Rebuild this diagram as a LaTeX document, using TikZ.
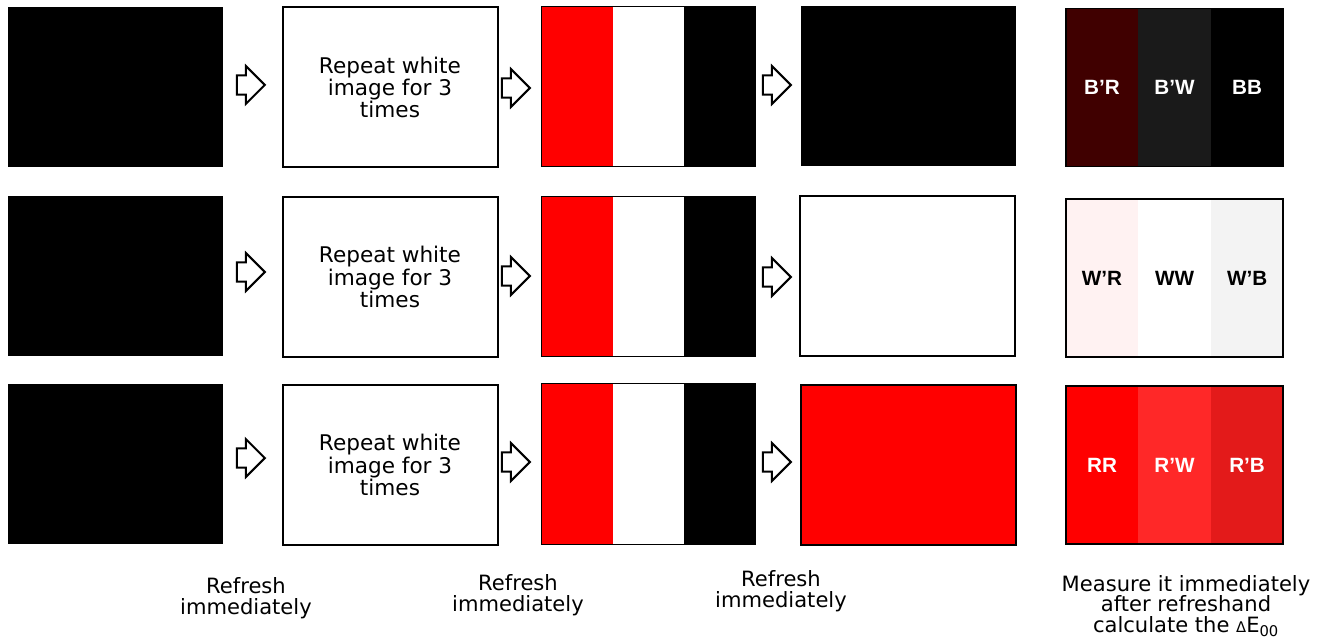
\documentclass[tikz,border=0pt]{standalone}
\usepackage{fontspec}
\setmainfont{DejaVu Sans}
\newfontfamily\stripefont{Liberation Sans}
\usepackage{tikz}
\usetikzlibrary{positioning}
\usetikzlibrary{shapes.arrows}
\definecolor{brdark}{HTML}{400000}
\definecolor{bwgrey}{HTML}{1A1A1A}
\definecolor{wrpink}{HTML}{FFF2F2}
\definecolor{wbgrey}{HTML}{F3F3F3}
\definecolor{rwred}{HTML}{FF2828}
\definecolor{rbred}{HTML}{E31A1A}
\tikzstyle{screen}=[rectangle,minimum width=161.25pt,minimum height=120pt,inner sep=0pt]
\tikzstyle{framed}=[screen,draw=black,line width=1.5pt]
\tikzstyle{stripe}=[rectangle,minimum width=54pt,minimum height=118pt,inner sep=0pt,line width=0.4pt,font=\stripefont\bfseries\fontsize{15.5}{18}\selectfont]
\tikzstyle{band}=[stripe,minimum width=53.25pt,minimum height=120pt]
\tikzstyle{tone}=[fill=#1,draw=#1]
\tikzstyle{caption}=[align=center,font=\fontsize{15.8}{15.5}\selectfont]

\begin{document}
\begin{tikzpicture}
		[x=0.75pt,y=-0.75pt, next/.style={single arrow,draw=black,line width=1.5pt,fill=white,minimum height=21pt,single arrow head extend=7pt,inner sep=0pt,inner ysep=6.5pt}]
		\useasboundingbox (0,0) rectangle (1330,641);
		
		% first row
		\node[screen,fill=black] (b1) at (115.5,87) {};
		\node[framed,caption,font=\fontsize{16.2}{15.6}\selectfont] (w1) at (390,87.5) {Repeat white\\image for 3\\times};
		\node[band,tone=red] (p1) at (577,86.5) {};
		\node[band,tone=white,right=0pt of p1] (q1) {};
		\node[band,tone=black,right=0pt of q1] (k1) {};
		\draw[line width=0.8pt] (p1.north west) rectangle (k1.south east);
		\node[screen,fill=black] (o1) at (908,86.5) {};
		\node[stripe,tone=brdark,text=white] (m11) at (1102,87.5) {B’R};
		\node[stripe,tone=bwgrey,text=white,right=0pt of m11] (m12) {B’W};
		\node[stripe,tone=black,text=white,right=0pt of m12] (m13) {BB};
		\draw[line width=1.2pt] (m11.north west) rectangle (m13.south east);
		
		% second row
		\node[screen,fill=black] (b2) at (115.5,276) {};
		\node[framed,caption,font=\fontsize{16.2}{15.6}\selectfont] (w2) at (390,277) {Repeat white\\image for 3\\times};
		\node[band,tone=red] (p2) at (577,276.5) {};
		\node[band,tone=white,right=0pt of p2] (q2) {};
		\node[band,tone=black,right=0pt of q2] (k2) {};
		\draw[line width=0.8pt] (p2.north west) rectangle (k2.south east);
		\node[framed,fill=white] (o2) at (907.5,276) {};
		\node[stripe,tone=wrpink] (m21) at (1102,278) {W’R};
		\node[stripe,tone=white,right=0pt of m21] (m22) {WW};
		\node[stripe,tone=wbgrey,right=0pt of m22] (m23) {W’B};
		\draw[line width=1.5pt] (m21.north west) rectangle (m23.south east);
		
		% third row
		\node[screen,fill=black] (b3) at (115.5,463.5) {};
		\node[framed,caption,font=\fontsize{16.2}{15.6}\selectfont] (w3) at (390,465) {Repeat white\\image for 3\\times};
		\node[band,tone=red] (p3) at (577,464) {};
		\node[band,tone=white,right=0pt of p3] (q3) {};
		\node[band,tone=black,right=0pt of q3] (k3) {};
		\draw[line width=0.8pt] (p3.north west) rectangle (k3.south east);
		\node[framed,fill=red] (o3) at (908,465) {};
		\node[stripe,tone=red,text=white] (m31) at (1102,465) {RR};
		\node[stripe,tone=rwred,text=white,right=0pt of m31] (m32) {R’W};
		\node[stripe,tone=rbred,text=white,right=0pt of m32] (m33) {R’B};
		\draw[line width=1.5pt] (m31.north west) rectangle (m33.south east);
		
		% arrows
		\node[next] (a11) at (246,85) {};
		\node[next] (a12) at (511,88) {};
		\node[next] (a13) at (772,85) {};
		\node[next] (a21) at (246,272) {};
		\node[next] (a22) at (511,276) {};
		\node[next] (a23) at (772,277) {};
		\node[next] (a31) at (246,458) {};
		\node[next] (a32) at (511,462) {};
		\node[next] (a33) at (772,462) {};
		
		% captions
		\node[caption] (c1) at (246,598) {Refresh\\immediately};
		\node[caption] (c2) at (518,595.5) {Refresh\\immediately};
		\node[caption] (c3) at (781,591.5) {Refresh\\immediately};
		\node[caption] (c4) at (1186,606) {Measure it immediately\\after refreshand\\calculate the {\fontsize{11}{11}\selectfont Δ}E\textsubscript{00}};
		
		\end{tikzpicture}
\end{document}
